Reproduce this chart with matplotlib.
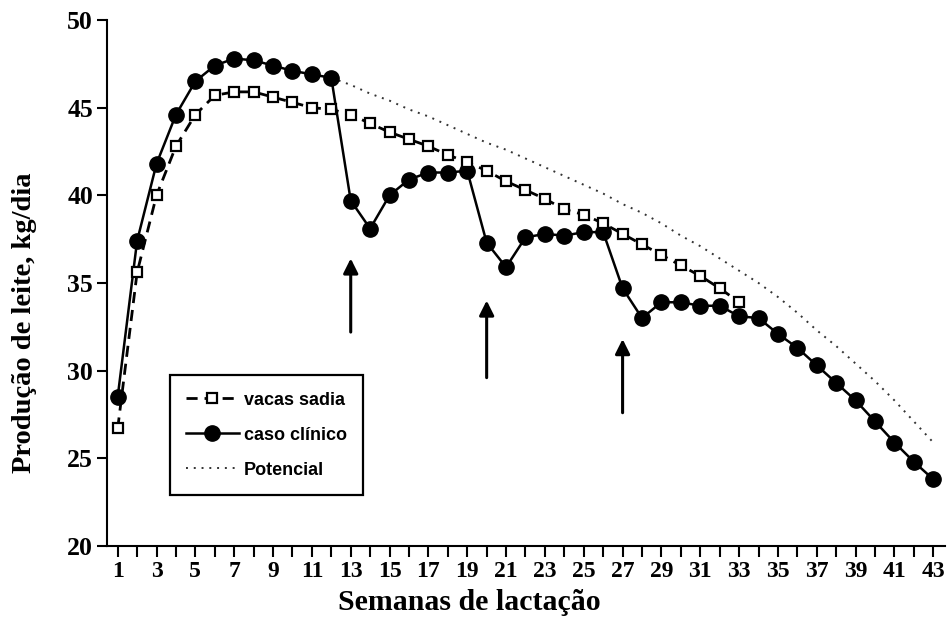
import matplotlib.pyplot as plt
import numpy as np

weeks = np.arange(1, 44)

caso_clinico = [28.5, 37.4, 41.8, 44.6, 46.5, 47.4, 47.8, 47.7, 47.4, 47.1,
                46.9, 46.7, 39.7, 38.1, 40.0, 40.9, 41.3, 41.3, 41.4, 37.3,
                35.9, 37.6, 37.8, 37.7, 37.9, 37.9, 34.7, 33.0, 33.9, 33.9,
                33.7, 33.7, 33.1, 33.0, 32.1, 31.3, 30.3, 29.3, 28.3, 27.1,
                25.9, 24.8, 23.8]

sadia_weeks = np.arange(1, 34)
vacas_sadia = [26.7, 35.6, 40.0, 42.8, 44.6, 45.7, 45.9, 45.9, 45.6, 45.3,
               45.0, 44.9, 44.6, 44.1, 43.6, 43.2, 42.8, 42.3, 41.9, 41.4,
               40.8, 40.3, 39.8, 39.2, 38.9, 38.4, 37.8, 37.2, 36.6, 36.0,
               35.4, 34.7, 33.9]

pot_weeks = np.arange(12, 44)
potencial = [46.7, 46.3, 45.8, 45.4, 44.9, 44.5, 44.0, 43.5, 43.0, 42.6,
             42.1, 41.6, 41.1, 40.6, 40.1, 39.5, 39.0, 38.4, 37.7, 37.1,
             36.4, 35.7, 35.0, 34.2, 33.3, 32.3, 31.4, 30.4, 29.4, 28.3,
             27.1, 25.9]

arrow_weeks = [13, 20, 27]
arrow_base = [32.2, 29.6, 27.6]
arrow_tip = [36.4, 34.0, 31.8]

fig = plt.figure(figsize=(9.52, 6.19), dpi=100)
ax = fig.add_axes([0.1124, 0.118, 0.8802, 0.8497])

l_pot, = ax.plot(pot_weeks, potencial, color="#333333", linestyle=(0, (1, 3)),
                 linewidth=1.4, label="Potencial")
l_caso, = ax.plot(weeks, caso_clinico, color="black", linewidth=1.8, marker="o",
                  markersize=11, label="caso clínico")
l_sadia, = ax.plot(sadia_weeks, vacas_sadia, color="black", linewidth=2,
                   linestyle=(0, (4, 2.5)), marker="s", markersize=7,
                   markerfacecolor="white", markeredgewidth=1.6,
                   label="vacas sadia")

for w, b, t in zip(arrow_weeks, arrow_base, arrow_tip):
    ax.annotate("", xy=(w, t), xytext=(w, b),
                arrowprops=dict(arrowstyle="-|>", color="black", lw=2.2,
                                mutation_scale=22, shrinkA=0, shrinkB=0))

ax.set_xlim(0.45, 43.6)
ax.set_ylim(20, 50)
ax.set_xticks(weeks, minor=True)
ax.set_xticks(np.arange(1, 44, 2))
ax.set_yticks(np.arange(20, 51, 5))
ax.tick_params(axis="x", which="both", direction="out", length=8, width=1.5, pad=3)
ax.tick_params(axis="y", direction="out", length=7, width=1.5, pad=3)
for s in ["top", "right"]:
    ax.spines[s].set_visible(False)
for s in ["left", "bottom"]:
    ax.spines[s].set_linewidth(1.5)

for lab in ax.get_xticklabels():
    lab.set_fontfamily("Liberation Serif")
    lab.set_fontweight("bold")
    lab.set_fontsize(17)
for lab in ax.get_yticklabels():
    lab.set_fontfamily("Liberation Serif")
    lab.set_fontweight("bold")
    lab.set_fontsize(18.5)

ax.set_xlabel("Semanas de lactação", fontfamily="Liberation Serif",
              fontweight="bold", fontsize=21.5)
ax.set_ylabel("Produção de leite, kg/dia", fontfamily="Liberation Serif",
              fontweight="bold", fontsize=20.5)
ax.xaxis.set_label_coords(0.4326, -0.082)
ax.yaxis.set_label_coords(-0.083, 0.424)

leg = ax.legend(handles=[l_sadia, l_caso, l_pot], loc="lower left",
                bbox_to_anchor=(0.0752, 0.097), borderaxespad=0,
                fancybox=False, framealpha=1, edgecolor="black",
                handlelength=2.9, handletextpad=0.3, borderpad=0.9,
                labelspacing=1.0, prop={"family": "Liberation Sans",
                                        "weight": "bold", "size": 13})
leg.get_frame().set_linewidth(1.6)

plt.savefig("out.png", dpi=100)
